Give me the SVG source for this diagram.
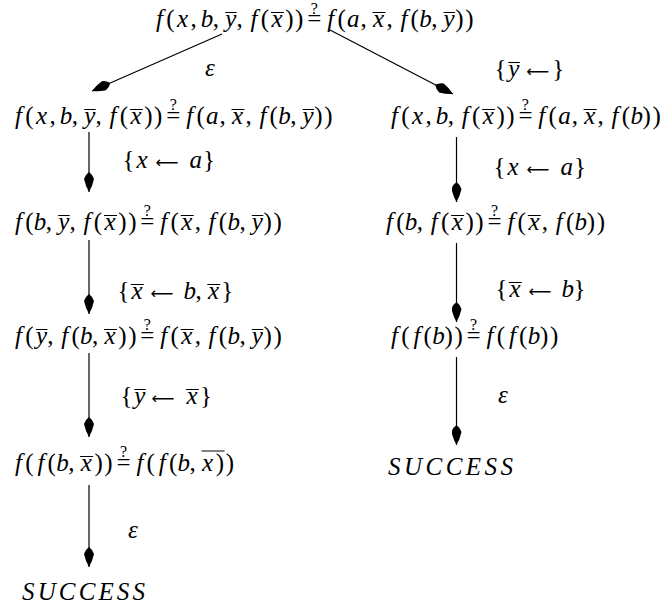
<svg xmlns="http://www.w3.org/2000/svg" width="661" height="611" viewBox="0 0 661 611">
<defs>
<style>
.t{font-family:'Liberation Serif','Times New Roman',serif;font-size:25px;fill:#000}
.i{font-style:italic}
.ar{font-family:'DejaVu Sans',sans-serif;font-style:normal;font-size:16px}
.q{font-family:'Liberation Serif','Times New Roman',serif;font-size:16px;fill:#000;text-anchor:middle}
.ol{stroke:#000;stroke-width:1.1;fill:none}
.e{stroke:#000;stroke-width:1.2;fill:none;marker-end:url(#ah)}
.c{text-anchor:middle}
</style>
<marker id="ah" viewBox="0 0 20 10" refX="20" refY="5" markerWidth="20" markerHeight="10" markerUnits="userSpaceOnUse" orient="auto">
<path d="M0,5 Q3,1 7,0 Q14,1.5 20,5 Q14,8.5 7,10 Q3,9 0,5 Z" fill="#000"/>
</marker>
</defs>

<g id="n_top">
<text class="t" y="27" x="156 166.2 177 190.4 200.8 212.7 225.2 236.6 250.5 260.7 271.5 285.2 295.1 307.3 327.2 337.4 347.1 360.5 373.1 386.4 400.4 410.6 419.2 431.2 443.6 455.3 465.2"><tspan class="i">f</tspan>(<tspan class="i">x</tspan>,<tspan class="i">b</tspan>,<tspan class="i">y</tspan>,<tspan class="i">f</tspan>(<tspan class="i">x</tspan>))=<tspan class="i">f</tspan>(<tspan class="i">a</tspan>,<tspan class="i">x</tspan>,<tspan class="i">f</tspan>(<tspan class="i">b</tspan>,<tspan class="i">y</tspan>))</text>
<text class="q" x="314.3" y="14">?</text>
<path class="ol" d="M225.2,12.5H236.7M270.9,12.5H283.9M372.5,12.5H385.5M443.6,12.5H455.1"/>
</g>

<g id="n_l1">
<text class="t" y="124" x="15 25.2 36 49.4 59.8 71.7 84.2 95.6 109.5 119.7 130.5 144.2 154.1 166.3 186.2 196.4 206.1 219.5 232.1 245.4 259.4 269.6 278.2 290.2 302.6 314.3 324.2"><tspan class="i">f</tspan>(<tspan class="i">x</tspan>,<tspan class="i">b</tspan>,<tspan class="i">y</tspan>,<tspan class="i">f</tspan>(<tspan class="i">x</tspan>))=<tspan class="i">f</tspan>(<tspan class="i">a</tspan>,<tspan class="i">x</tspan>,<tspan class="i">f</tspan>(<tspan class="i">b</tspan>,<tspan class="i">y</tspan>))</text>
<text class="q" x="173.3" y="110">?</text>
<path class="ol" d="M84.2,109.5H95.7M129.9,109.5H142.9M231.5,109.5H244.5M302.6,109.5H314.1"/>
</g>

<g id="n_r1">
<text class="t" y="124" x="391 401.2 412 425.4 435.8 447.7 461.7 471.9 482.7 496.4 506.3 518.4 538.3 548.5 558.3 571.7 584.2 597.6 611.5 621.7 630.4 642.6 652.5"><tspan class="i">f</tspan>(<tspan class="i">x</tspan>,<tspan class="i">b</tspan>,<tspan class="i">f</tspan>(<tspan class="i">x</tspan>))=<tspan class="i">f</tspan>(<tspan class="i">a</tspan>,<tspan class="i">x</tspan>,<tspan class="i">f</tspan>(<tspan class="i">b</tspan>))</text>
<text class="q" x="525.4" y="110">?</text>
<path class="ol" d="M482.1,109.5H495.1M583.6,109.5H596.6"/>
</g>

<g id="n_l2">
<text class="t" y="230" x="15 25.2 33.8 45.8 58.2 69.6 83.6 93.8 104.6 118.3 128.2 140.3 160.3 170.5 181.3 194.7 208.6 218.8 227.4 239.4 251.8 263.5 273.4"><tspan class="i">f</tspan>(<tspan class="i">b</tspan>,<tspan class="i">y</tspan>,<tspan class="i">f</tspan>(<tspan class="i">x</tspan>))=<tspan class="i">f</tspan>(<tspan class="i">x</tspan>,<tspan class="i">f</tspan>(<tspan class="i">b</tspan>,<tspan class="i">y</tspan>))</text>
<text class="q" x="147.3" y="216">?</text>
<path class="ol" d="M58.2,215.5H69.7M104,215.5H117M180.7,215.5H193.7M251.8,215.5H263.3"/>
</g>

<g id="n_r2">
<text class="t" y="230" x="386 396.2 404.8 416.8 430.7 440.9 451.7 465.4 475.3 487.5 507.4 517.6 528.4 541.8 555.8 566 574.6 586.8 596.7"><tspan class="i">f</tspan>(<tspan class="i">b</tspan>,<tspan class="i">f</tspan>(<tspan class="i">x</tspan>))=<tspan class="i">f</tspan>(<tspan class="i">x</tspan>,<tspan class="i">f</tspan>(<tspan class="i">b</tspan>))</text>
<text class="q" x="494.5" y="216">?</text>
<path class="ol" d="M451.1,215.5H464.1M527.8,215.5H540.8"/>
</g>

<g id="n_l3">
<text class="t" y="344" x="15 25.2 35.9 47.3 61.3 71.5 80.1 92 104.6 118.3 128.2 140.3 160.3 170.5 181.3 194.7 208.6 218.8 227.4 239.4 251.8 263.5 273.4"><tspan class="i">f</tspan>(<tspan class="i">y</tspan>,<tspan class="i">f</tspan>(<tspan class="i">b</tspan>,<tspan class="i">x</tspan>))=<tspan class="i">f</tspan>(<tspan class="i">x</tspan>,<tspan class="i">f</tspan>(<tspan class="i">b</tspan>,<tspan class="i">y</tspan>))</text>
<text class="q" x="147.3" y="330">?</text>
<path class="ol" d="M35.9,329.5H47.4M104,329.5H117M180.7,329.5H193.7M251.8,329.5H263.3"/>
</g>

<g id="n_r3">
<text class="t" y="344" x="391 401.2 413.4 423.6 432.2 444.5 454.4 466.5 486.5 496.7 508.9 519.1 527.7 539.9 549.9"><tspan class="i">f</tspan>(<tspan class="i">f</tspan>(<tspan class="i">b</tspan>))=<tspan class="i">f</tspan>(<tspan class="i">f</tspan>(<tspan class="i">b</tspan>))</text>
<text class="q" x="473.5" y="330">?</text>
</g>

<g id="n_l4">
<text class="t" y="471" x="15 25.2 37.4 47.6 56.2 68.2 80.7 94.4 104.3 116.5 136.4 146.6 158.8 169 177.6 189.6 202.1 215.8 225.7"><tspan class="i">f</tspan>(<tspan class="i">f</tspan>(<tspan class="i">b</tspan>,<tspan class="i">x</tspan>))=<tspan class="i">f</tspan>(<tspan class="i">f</tspan>(<tspan class="i">b</tspan>,<tspan class="i">x</tspan>))</text>
<text class="q" x="123.5" y="457">?</text>
<path class="ol" d="M80.1,456.5H93.1M201.5,451H224.5"/>
</g>

<g id="n_r4">
<text class="t i" x="388" y="475" textLength="125" lengthAdjust="spacing">SUCCESS</text>
</g>

<g id="n_l5">
<text class="t i" x="22" y="600" textLength="123" lengthAdjust="spacing">SUCCESS</text>
</g>

<g id="connectors">
<path class="e" d="M222,34L92,91"/>
<path class="e" d="M330,30L453,94"/>
<path class="e" d="M89,132V192"/>
<path class="e" d="M89,240V314"/>
<path class="e" d="M89,353V437"/>
<path class="e" d="M89,485V567"/>
<path class="e" d="M456.5,137V202"/>
<path class="e" d="M456.5,243V322"/>
<path class="e" d="M456.5,357V445"/>
<g id="edge-labels">
<text class="t i c" x="210" y="76">ε</text>
<text class="t" y="77" x="494.4 508.3 526.3 552.2">{<tspan class="i">y</tspan><tspan class="ar">⟵</tspan>}</text>
<path class="ol" d="M508.3,62.5H519.8"/>
<text class="t" y="168" x="122.4 136.4 155.5 189.5 202.9">{<tspan class="i">x</tspan><tspan class="ar">⟵</tspan><tspan class="i">a</tspan>}</text>
<text class="t" y="175" x="493.4 507.4 526.5 560.5 573.9">{<tspan class="i">x</tspan><tspan class="ar">⟵</tspan><tspan class="i">a</tspan>}</text>
<text class="t" y="299" x="117.4 131.4 150.5 183.4 195.4 207.9 221.3">{<tspan class="i">x</tspan><tspan class="ar">⟵</tspan><tspan class="i">b</tspan>,<tspan class="i">x</tspan>}</text>
<path class="ol" d="M130.8,284.5H143.8M207.3,284.5H220.3"/>
<text class="t" y="297" x="495.4 509.4 528.5 561.4 573.4">{<tspan class="i">x</tspan><tspan class="ar">⟵</tspan><tspan class="i">b</tspan>}</text>
<path class="ol" d="M508.8,282.5H521.8"/>
<text class="t" y="404" x="120.4 134.3 151.4 186.5 199.9">{<tspan class="i">y</tspan><tspan class="ar">⟵</tspan><tspan class="i">x</tspan>}</text>
<path class="ol" d="M134.3,389.5H145.8M185.9,389.5H198.9"/>
<text class="t i c" x="503" y="403">ε</text>
<text class="t i c" x="133" y="538">ε</text>
</g>
</g>
</svg>
